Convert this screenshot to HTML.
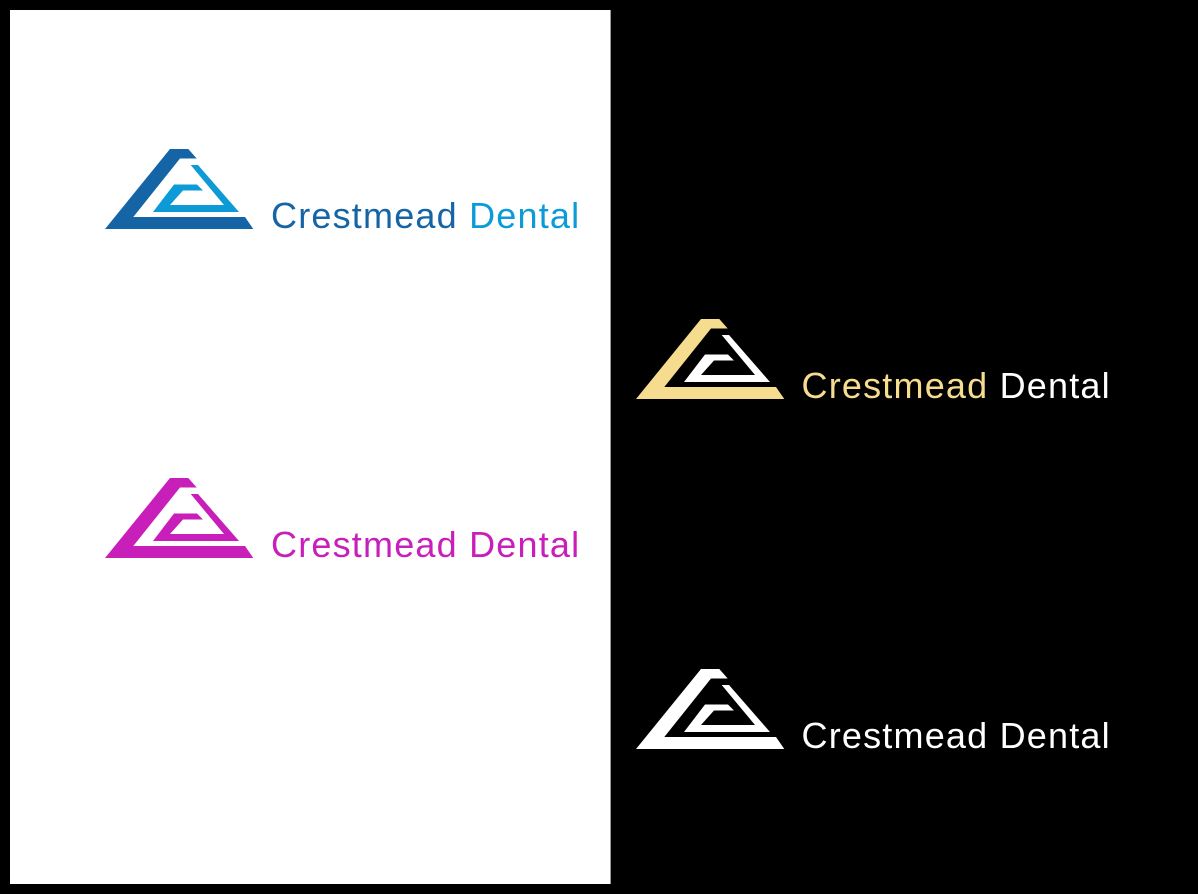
<!DOCTYPE html>
<html>
<head>
<meta charset="utf-8">
<style>
  html, body { margin: 0; padding: 0; background: #000; }
  body { width: 1198px; height: 894px; overflow: hidden; }
  svg { display: block; }
  text { font-family: "Liberation Sans", Arial, sans-serif; font-size: 36px; letter-spacing: 1.2px; }
</style>
</head>
<body>
<svg width="1198" height="894" viewBox="0 0 1198 894" xmlns="http://www.w3.org/2000/svg">
  <rect x="0" y="0" width="1198" height="894" fill="#000"/>
  <rect x="10" y="10" width="600" height="874" fill="#fff"/>
  <rect x="610" y="10" width="1" height="874" fill="#9a9a9a"/>

  <!-- Blue logo -->
  <g transform="translate(105,149)">
    <polygon fill="#1564a6" points="65,0 83.3,0 91.7,9.5 75,9.5 28.3,68 140,68 148.3,80 0,80"/>
    <polygon fill="#0c9bd6" points="85.7,16 93,16 134,63 48,63 69,35.5 92,35.5 98,41.5 78,41.5 65,56 119,56"/>
  </g>
  <text x="271" y="228" fill="#1564a6">Crestmead <tspan fill="#0c9bd6">Dental</tspan></text>

  <!-- Magenta logo -->
  <g transform="translate(105,478)">
    <polygon fill="#c81fba" points="65,0 83.3,0 91.7,9.5 75,9.5 28.3,68 140,68 148.3,80 0,80"/>
    <polygon fill="#c81fba" points="85.7,16 93,16 134,63 48,63 69,35.5 92,35.5 98,41.5 78,41.5 65,56 119,56"/>
  </g>
  <text x="271" y="557" fill="#c81fba">Crestmead Dental</text>

  <!-- Gold logo -->
  <g transform="translate(636,319)">
    <polygon fill="#f6dc8f" points="65,0 83.3,0 91.7,9.5 75,9.5 28.3,68 140,68 148.3,80 0,80"/>
    <polygon fill="#ffffff" points="85.7,16 93,16 134,63 48,63 69,35.5 92,35.5 98,41.5 78,41.5 65,56 119,56"/>
  </g>
  <text x="801.5" y="398" fill="#f6dc8f">Crestmead <tspan fill="#ffffff">Dental</tspan></text>

  <!-- White logo -->
  <g transform="translate(636,669)">
    <polygon fill="#ffffff" points="65,0 83.3,0 91.7,9.5 75,9.5 28.3,68 140,68 148.3,80 0,80"/>
    <polygon fill="#ffffff" points="85.7,16 93,16 134,63 48,63 69,35.5 92,35.5 98,41.5 78,41.5 65,56 119,56"/>
  </g>
  <text x="801.5" y="748" fill="#ffffff">Crestmead Dental</text>
</svg>
</body>
</html>
